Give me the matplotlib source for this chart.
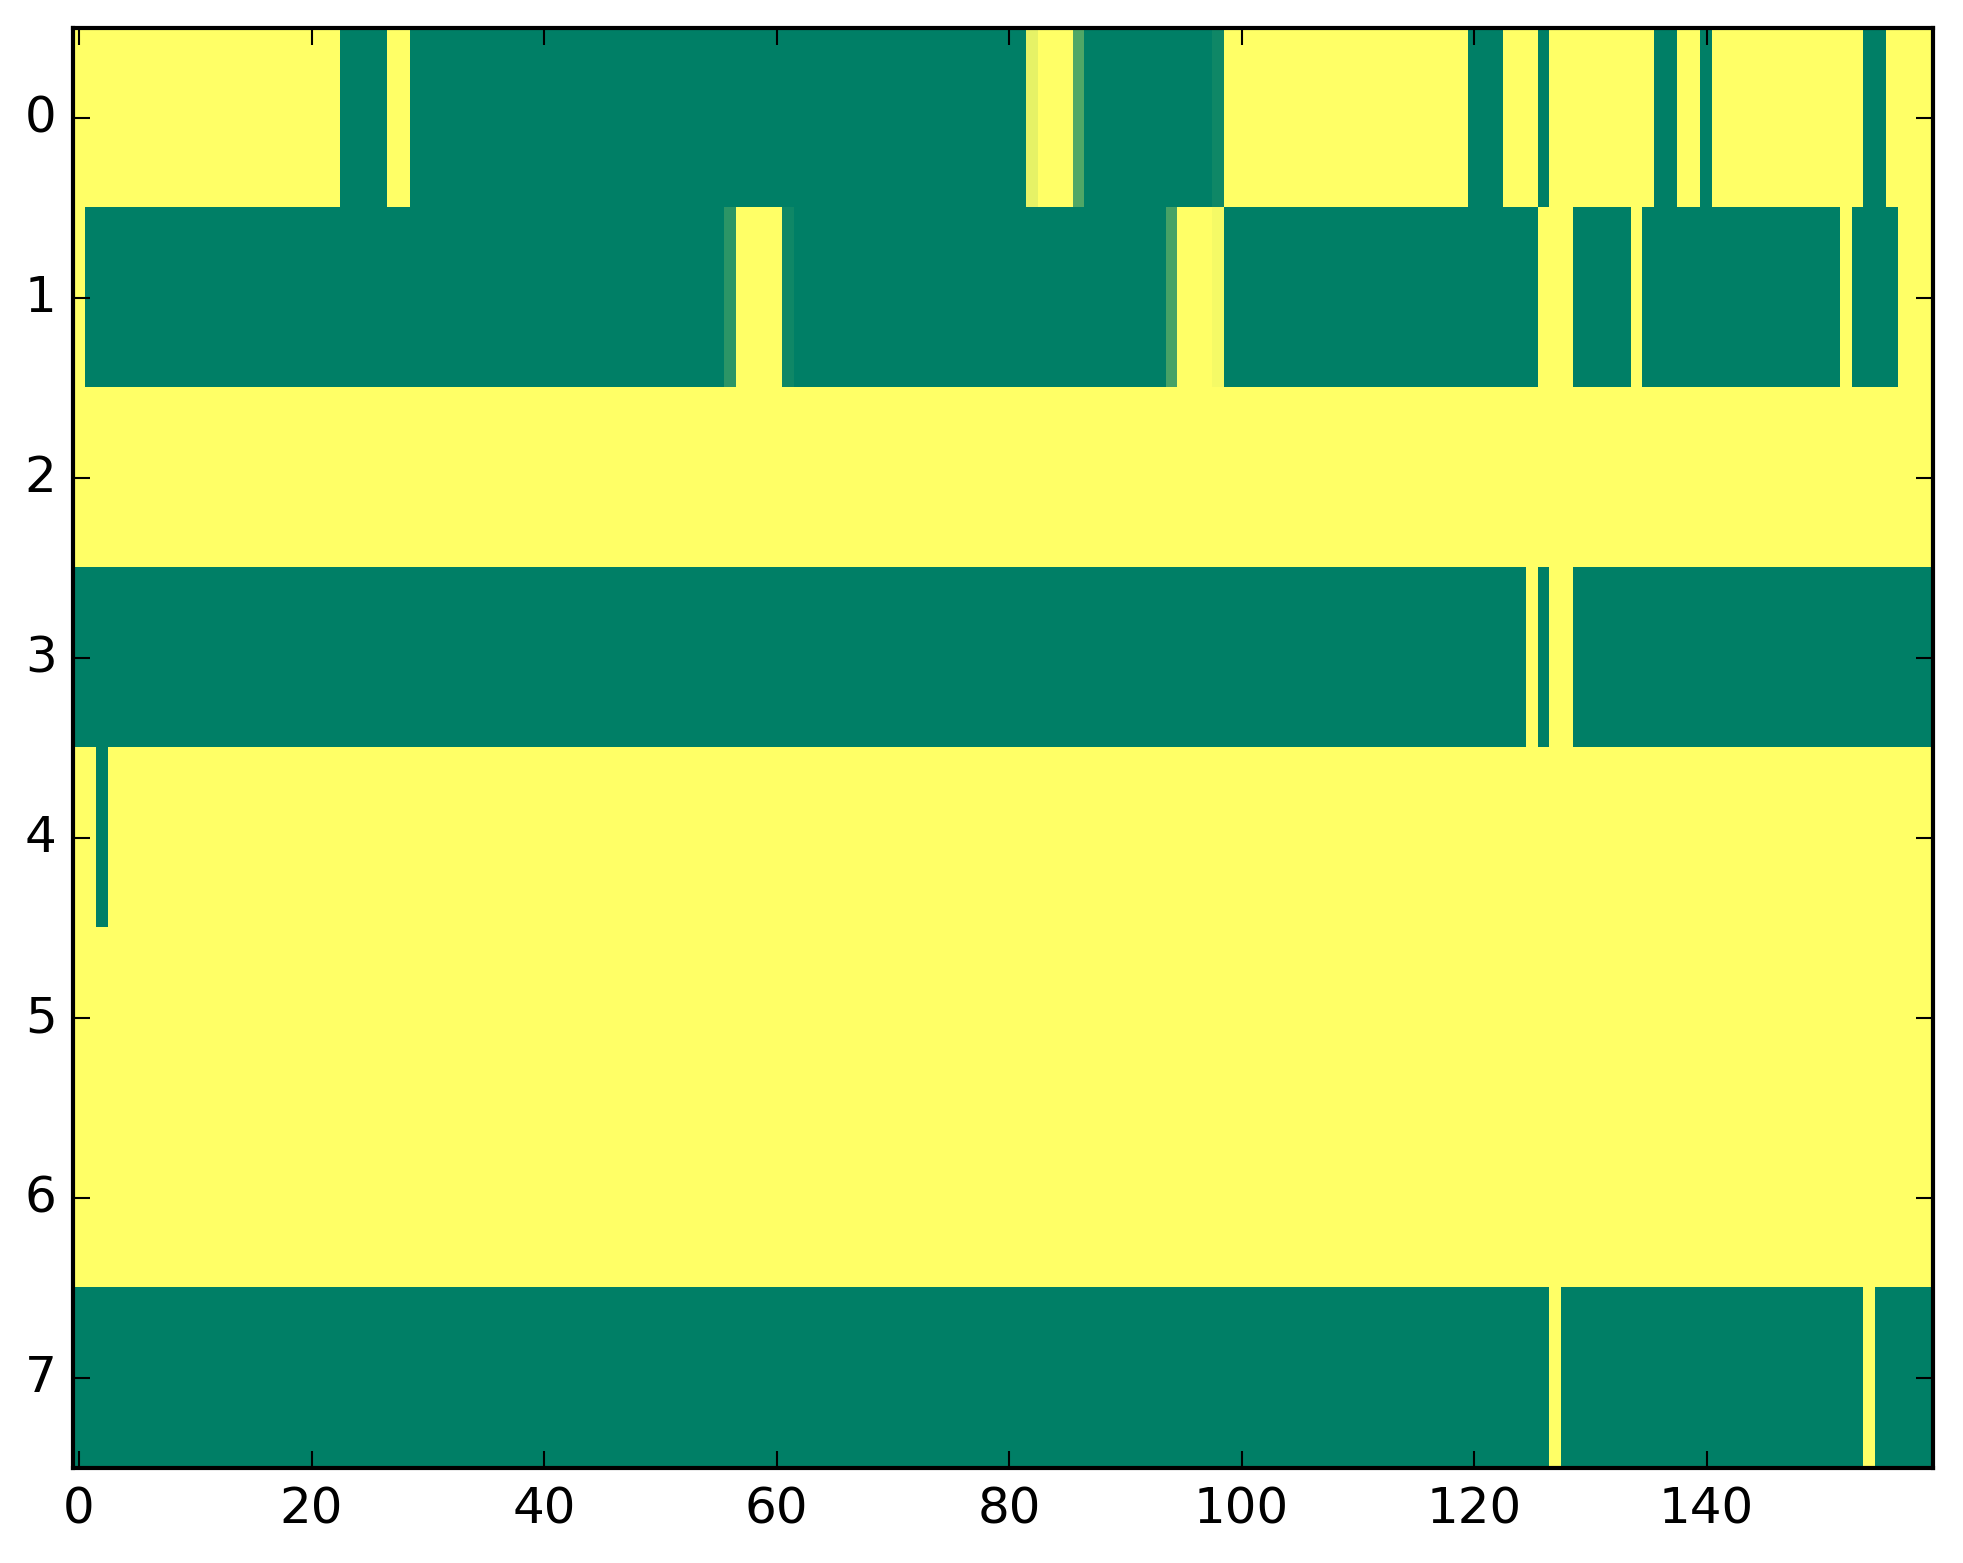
import matplotlib
matplotlib.use('Agg')
import matplotlib.pyplot as plt
import numpy as np

# old-school look: ticks inside, on all four sides
plt.style.use('classic')

# DATA - one list per image row, 160 cells each (0 = green, 1 = yellow)
row0 = [
    1, 1, 1, 1, 1, 1, 1, 1, 1, 1, 1, 1, 1, 1, 1, 1, 1, 1, 1, 1,
    1, 1, 1, 0, 0, 0, 0, 1, 1, 0, 0, 0, 0, 0, 0, 0, 0, 0, 0, 0,
    0, 0, 0, 0, 0, 0, 0, 0, 0, 0, 0, 0, 0, 0, 0, 0, 0, 0, 0, 0,
    0, 0, 0, 0, 0, 0, 0, 0, 0, 0, 0, 0, 0, 0, 0, 0, 0, 0, 0, 0,
    0, 0, .9, 1, 1, 1, .31, 0, 0, 0, 0, 0, 0, 0, 0, 0, 0, 0, .06, 1,
    1, 1, 1, 1, 1, 1, 1, 1, 1, 1, 1, 1, 1, 1, 1, 1, 1, 1, 1, 1,
    0, 0, 0, 1, 1, 1, 0, 1, 1, 1, 1, 1, 1, 1, 1, 1, 0, 0, 1, 1,
    0, 1, 1, 1, 1, 1, 1, 1, 1, 1, 1, 1, 1, 1, 0, 0, 1, 1, 1, 1,
]
row1 = [
    1, 0, 0, 0, 0, 0, 0, 0, 0, 0, 0, 0, 0, 0, 0, 0, 0, 0, 0, 0,
    0, 0, 0, 0, 0, 0, 0, 0, 0, 0, 0, 0, 0, 0, 0, 0, 0, 0, 0, 0,
    0, 0, 0, 0, 0, 0, 0, 0, 0, 0, 0, 0, 0, 0, 0, 0, .17, 1, 1, 1,
    1, .06, 0, 0, 0, 0, 0, 0, 0, 0, 0, 0, 0, 0, 0, 0, 0, 0, 0, 0,
    0, 0, 0, 0, 0, 0, 0, 0, 0, 0, 0, 0, 0, 0, .27, 1, 1, 1, .96, 0,
    0, 0, 0, 0, 0, 0, 0, 0, 0, 0, 0, 0, 0, 0, 0, 0, 0, 0, 0, 0,
    0, 0, 0, 0, 0, 0, 1, 1, 1, 0, 0, 0, 0, 0, 1, 0, 0, 0, 0, 0,
    0, 0, 0, 0, 0, 0, 0, 0, 0, 0, 0, 0, 1, 0, 0, 0, 0, 1, 1, 1,
]
row2 = [
    1, 1, 1, 1, 1, 1, 1, 1, 1, 1, 1, 1, 1, 1, 1, 1, 1, 1, 1, 1,
    1, 1, 1, 1, 1, 1, 1, 1, 1, 1, 1, 1, 1, 1, 1, 1, 1, 1, 1, 1,
    1, 1, 1, 1, 1, 1, 1, 1, 1, 1, 1, 1, 1, 1, 1, 1, 1, 1, 1, 1,
    1, 1, 1, 1, 1, 1, 1, 1, 1, 1, 1, 1, 1, 1, 1, 1, 1, 1, 1, 1,
    1, 1, 1, 1, 1, 1, 1, 1, 1, 1, 1, 1, 1, 1, 1, 1, 1, 1, 1, 1,
    1, 1, 1, 1, 1, 1, 1, 1, 1, 1, 1, 1, 1, 1, 1, 1, 1, 1, 1, 1,
    1, 1, 1, 1, 1, 1, 1, 1, 1, 1, 1, 1, 1, 1, 1, 1, 1, 1, 1, 1,
    1, 1, 1, 1, 1, 1, 1, 1, 1, 1, 1, 1, 1, 1, 1, 1, 1, 1, 1, 1,
]
row3 = [
    0, 0, 0, 0, 0, 0, 0, 0, 0, 0, 0, 0, 0, 0, 0, 0, 0, 0, 0, 0,
    0, 0, 0, 0, 0, 0, 0, 0, 0, 0, 0, 0, 0, 0, 0, 0, 0, 0, 0, 0,
    0, 0, 0, 0, 0, 0, 0, 0, 0, 0, 0, 0, 0, 0, 0, 0, 0, 0, 0, 0,
    0, 0, 0, 0, 0, 0, 0, 0, 0, 0, 0, 0, 0, 0, 0, 0, 0, 0, 0, 0,
    0, 0, 0, 0, 0, 0, 0, 0, 0, 0, 0, 0, 0, 0, 0, 0, 0, 0, 0, 0,
    0, 0, 0, 0, 0, 0, 0, 0, 0, 0, 0, 0, 0, 0, 0, 0, 0, 0, 0, 0,
    0, 0, 0, 0, 0, 1, 0, 1, 1, 0, 0, 0, 0, 0, 0, 0, 0, 0, 0, 0,
    0, 0, 0, 0, 0, 0, 0, 0, 0, 0, 0, 0, 0, 0, 0, 0, 0, 0, 0, 0,
]
row4 = [
    1, 1, 0, 1, 1, 1, 1, 1, 1, 1, 1, 1, 1, 1, 1, 1, 1, 1, 1, 1,
    1, 1, 1, 1, 1, 1, 1, 1, 1, 1, 1, 1, 1, 1, 1, 1, 1, 1, 1, 1,
    1, 1, 1, 1, 1, 1, 1, 1, 1, 1, 1, 1, 1, 1, 1, 1, 1, 1, 1, 1,
    1, 1, 1, 1, 1, 1, 1, 1, 1, 1, 1, 1, 1, 1, 1, 1, 1, 1, 1, 1,
    1, 1, 1, 1, 1, 1, 1, 1, 1, 1, 1, 1, 1, 1, 1, 1, 1, 1, 1, 1,
    1, 1, 1, 1, 1, 1, 1, 1, 1, 1, 1, 1, 1, 1, 1, 1, 1, 1, 1, 1,
    1, 1, 1, 1, 1, 1, 1, 1, 1, 1, 1, 1, 1, 1, 1, 1, 1, 1, 1, 1,
    1, 1, 1, 1, 1, 1, 1, 1, 1, 1, 1, 1, 1, 1, 1, 1, 1, 1, 1, 1,
]
row5 = [
    1, 1, 1, 1, 1, 1, 1, 1, 1, 1, 1, 1, 1, 1, 1, 1, 1, 1, 1, 1,
    1, 1, 1, 1, 1, 1, 1, 1, 1, 1, 1, 1, 1, 1, 1, 1, 1, 1, 1, 1,
    1, 1, 1, 1, 1, 1, 1, 1, 1, 1, 1, 1, 1, 1, 1, 1, 1, 1, 1, 1,
    1, 1, 1, 1, 1, 1, 1, 1, 1, 1, 1, 1, 1, 1, 1, 1, 1, 1, 1, 1,
    1, 1, 1, 1, 1, 1, 1, 1, 1, 1, 1, 1, 1, 1, 1, 1, 1, 1, 1, 1,
    1, 1, 1, 1, 1, 1, 1, 1, 1, 1, 1, 1, 1, 1, 1, 1, 1, 1, 1, 1,
    1, 1, 1, 1, 1, 1, 1, 1, 1, 1, 1, 1, 1, 1, 1, 1, 1, 1, 1, 1,
    1, 1, 1, 1, 1, 1, 1, 1, 1, 1, 1, 1, 1, 1, 1, 1, 1, 1, 1, 1,
]
row6 = [
    1, 1, 1, 1, 1, 1, 1, 1, 1, 1, 1, 1, 1, 1, 1, 1, 1, 1, 1, 1,
    1, 1, 1, 1, 1, 1, 1, 1, 1, 1, 1, 1, 1, 1, 1, 1, 1, 1, 1, 1,
    1, 1, 1, 1, 1, 1, 1, 1, 1, 1, 1, 1, 1, 1, 1, 1, 1, 1, 1, 1,
    1, 1, 1, 1, 1, 1, 1, 1, 1, 1, 1, 1, 1, 1, 1, 1, 1, 1, 1, 1,
    1, 1, 1, 1, 1, 1, 1, 1, 1, 1, 1, 1, 1, 1, 1, 1, 1, 1, 1, 1,
    1, 1, 1, 1, 1, 1, 1, 1, 1, 1, 1, 1, 1, 1, 1, 1, 1, 1, 1, 1,
    1, 1, 1, 1, 1, 1, 1, 1, 1, 1, 1, 1, 1, 1, 1, 1, 1, 1, 1, 1,
    1, 1, 1, 1, 1, 1, 1, 1, 1, 1, 1, 1, 1, 1, 1, 1, 1, 1, 1, 1,
]
row7 = [
    0, 0, 0, 0, 0, 0, 0, 0, 0, 0, 0, 0, 0, 0, 0, 0, 0, 0, 0, 0,
    0, 0, 0, 0, 0, 0, 0, 0, 0, 0, 0, 0, 0, 0, 0, 0, 0, 0, 0, 0,
    0, 0, 0, 0, 0, 0, 0, 0, 0, 0, 0, 0, 0, 0, 0, 0, 0, 0, 0, 0,
    0, 0, 0, 0, 0, 0, 0, 0, 0, 0, 0, 0, 0, 0, 0, 0, 0, 0, 0, 0,
    0, 0, 0, 0, 0, 0, 0, 0, 0, 0, 0, 0, 0, 0, 0, 0, 0, 0, 0, 0,
    0, 0, 0, 0, 0, 0, 0, 0, 0, 0, 0, 0, 0, 0, 0, 0, 0, 0, 0, 0,
    0, 0, 0, 0, 0, 0, 0, 1, 0, 0, 0, 0, 0, 0, 0, 0, 0, 0, 0, 0,
    0, 0, 0, 0, 0, 0, 0, 0, 0, 0, 0, 0, 0, 0, 1, 0, 0, 0, 0, 0,
]

rows = [row0, row1, row2, row3, row4, row5, row6, row7]
for i, r in enumerate(rows):
    assert len(r) == 160, (i, len(r))
grid = np.array(rows, dtype=float)

W, H, DPI = 1963, 1564, 300
fig = plt.figure(figsize=(W / DPI, H / DPI), dpi=DPI, facecolor='white')
ax = fig.add_axes([73.2 / W, 95.5 / H, 1860 / W, 1440 / H])

ax.imshow(grid, cmap='summer', vmin=0, vmax=1, aspect='auto',
          interpolation='nearest')
ax.set_xlim(-0.5, 159.5)
ax.set_ylim(7.5, -0.5)
ax.set_xticks(range(0, 160, 20))
ax.set_yticks(range(8))

fig.savefig('out.png', dpi=DPI, facecolor='white')
